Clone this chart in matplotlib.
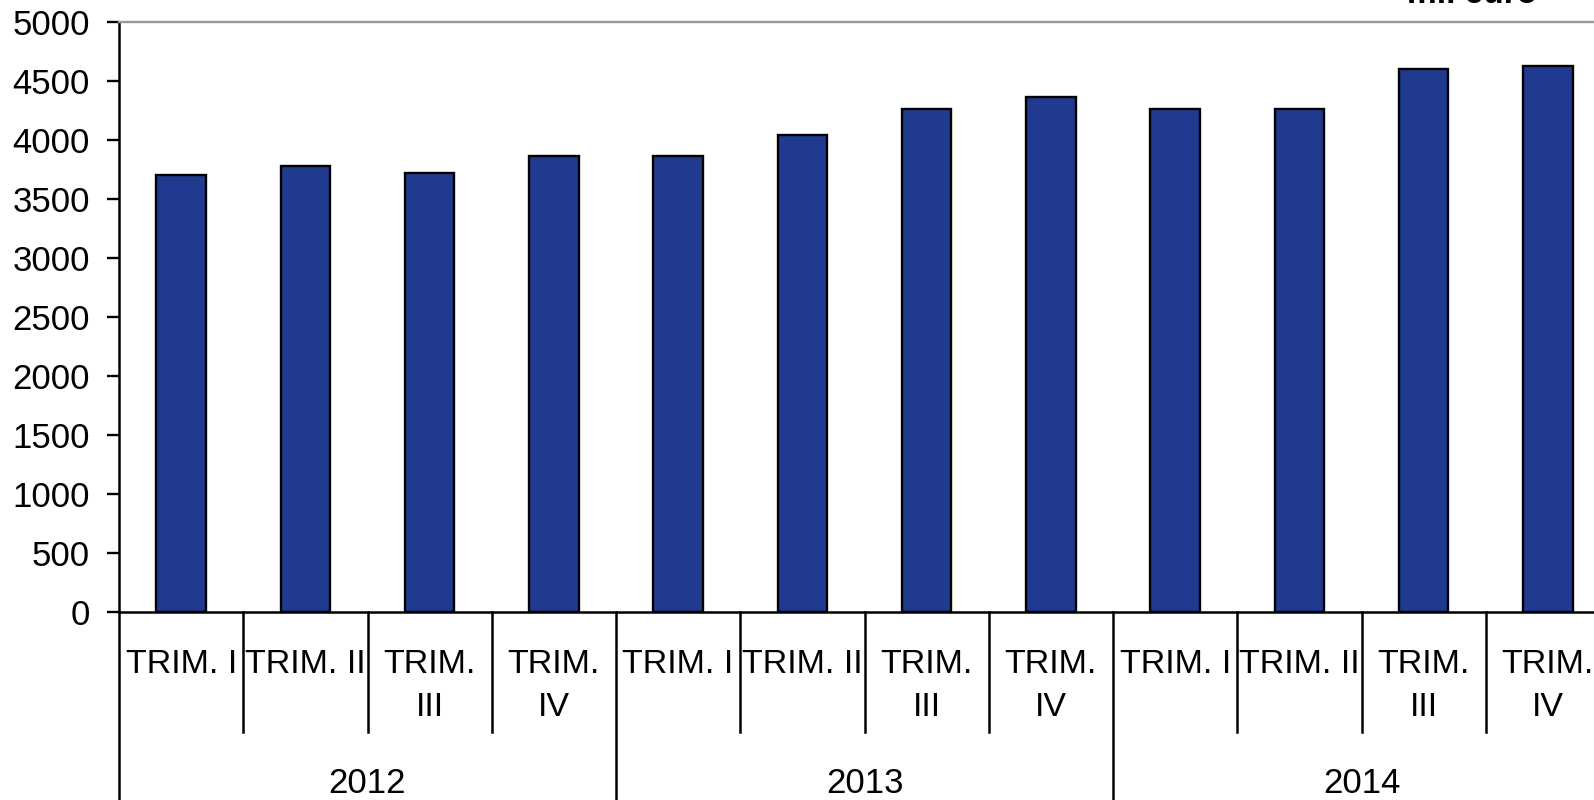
import matplotlib
matplotlib.use("Agg")
import matplotlib.pyplot as plt
import matplotlib.transforms as mtransforms

# ── Data ──────────────────────────────────────────────────────────────────────
years = ["2012", "2013", "2014"]
quarters = ["TRIM. I", "TRIM. II", "TRIM.\nIII", "TRIM.\nIV"]
values = [3697, 3780, 3720, 3859,
          3859, 4042, 4260, 4362,
          4263, 4263, 4600, 4625]
unit_label = "mil euro"

BAR_COLOUR = "#1F3A8F"
FONT = ["Liberation Sans", "DejaVu Sans"]
plt.rcParams["font.family"] = FONT

fig = plt.figure(figsize=(15.94, 8.0), dpi=100)
# axes extend a little past the right edge, as in the original crop
ax = fig.add_axes([119 / 1594, 1 - 611.7 / 800, (1610 - 119) / 1594, (611.7 - 21.7) / 800])

x = list(range(len(values)))
ax.bar(x, values, width=0.4, color=BAR_COLOUR, edgecolor="black", linewidth=1.7, zorder=2)

ax.set_xlim(-0.5, len(values) - 0.5)
ax.set_ylim(0, 5000)
ax.set_yticks(range(0, 5001, 500))
ax.tick_params(axis="y", direction="out", length=9, width=1.7, pad=12, labelsize=25)
ax.set_xticks([])

ax.spines["right"].set_visible(False)
ax.spines["top"].set_color("#999999")
ax.spines["top"].set_linewidth(1.7)
ax.spines["left"].set_linewidth(1.8)
ax.spines["bottom"].set_linewidth(1.8)

# ── Category axis (quarters + years) ─────────────────────────────────────────
trans = mtransforms.blended_transform_factory(ax.transData, ax.transAxes)
n_q = len(quarters)
for i in range(len(values)):
    ax.text(i, -0.064, quarters[i % n_q], transform=trans, ha="center", va="top",
            fontsize=24.5, linespacing=1.5)
for k in range(len(values) + 1):
    bottom = -0.32 if k % n_q == 0 else -0.204
    ax.plot([k - 0.5, k - 0.5], [0, bottom], transform=trans, color="black",
            linewidth=1.8, clip_on=False)
for j, yr in enumerate(years):
    ax.text(j * n_q + (n_q - 1) / 2, -0.291, yr, transform=trans, ha="center",
            va="center", fontsize=25)

# unit label, cut off at the top like in the source image
fig.text(1537 / 1594, 1 - 3 / 800, unit_label, ha="right", va="baseline",
         fontsize=24, fontweight="bold")

fig.savefig("out.png", dpi=100)
